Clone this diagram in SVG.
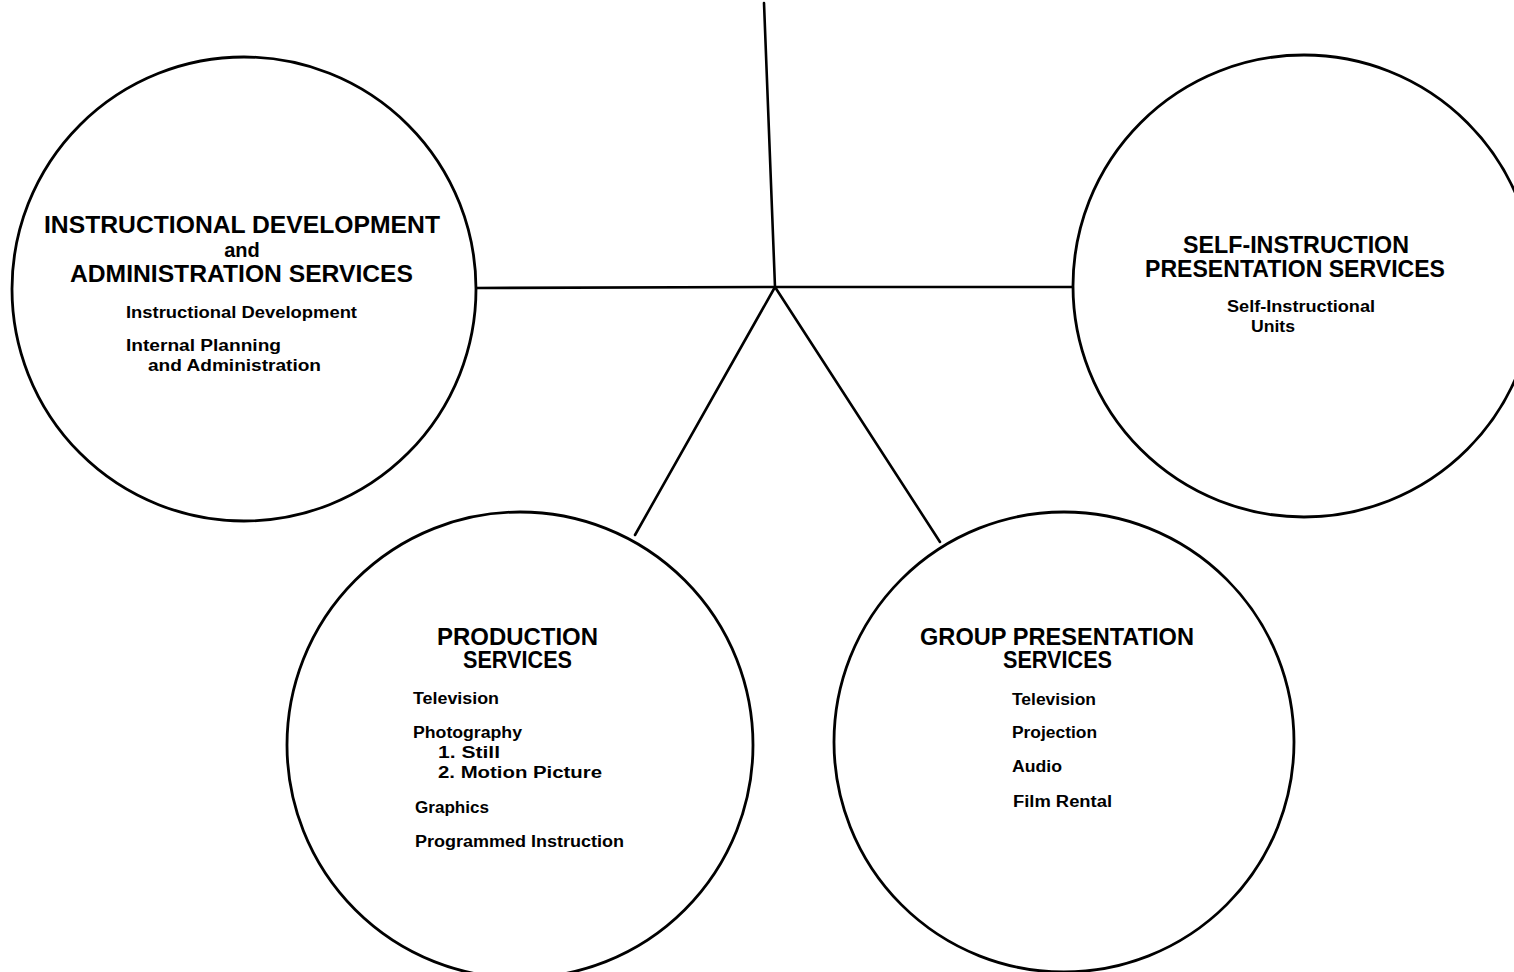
<svg xmlns="http://www.w3.org/2000/svg" width="1514" height="972" viewBox="0 0 1514 972">
  <style>
    .ring { fill: #ffffff; stroke: #000000; stroke-width: 2.8; }
    .link { stroke: #000000; stroke-width: 2.6; fill: none; stroke-linecap: round; }
    text { font-family: "Liberation Sans", Arial, sans-serif; font-weight: bold; fill: #000000; }
    .head { font-size: 23px; }
    .item { font-size: 16px; }
  </style>

  <!-- connecting lines from the central junction -->
  <g id="connectors">
    <line class="link" x1="764" y1="3" x2="775" y2="287"/>
    <line class="link" x1="475" y1="288" x2="775" y2="287"/>
    <line class="link" x1="775" y1="287" x2="1073" y2="287"/>
    <line class="link" x1="775" y1="287" x2="635" y2="535"/>
    <line class="link" x1="775" y1="287" x2="940" y2="542"/>
  </g>

  <g id="instructional-development">
    <circle class="ring" cx="244" cy="289" r="232"/>
    <text class="head" x="44" y="233" textLength="396" lengthAdjust="spacingAndGlyphs">INSTRUCTIONAL  DEVELOPMENT</text>
    <text class="head" x="242" y="257" text-anchor="middle" style="font-size:20px">and</text>
    <text class="head" x="70" y="282" textLength="343" lengthAdjust="spacingAndGlyphs">ADMINISTRATION SERVICES</text>
    <text class="item" x="126" y="318" textLength="231" lengthAdjust="spacingAndGlyphs">Instructional Development</text>
    <text class="item" x="126" y="351" textLength="155" lengthAdjust="spacingAndGlyphs">Internal Planning</text>
    <text class="item" x="148" y="371" textLength="173" lengthAdjust="spacingAndGlyphs">and Administration</text>
  </g>

  <g id="self-instruction">
    <circle class="ring" cx="1304" cy="286" r="231"/>
    <text class="head" x="1183" y="253" textLength="226" lengthAdjust="spacingAndGlyphs">SELF-INSTRUCTION</text>
    <text class="head" x="1145" y="277" textLength="300" lengthAdjust="spacingAndGlyphs">PRESENTATION SERVICES</text>
    <text class="item" x="1227" y="312" textLength="148" lengthAdjust="spacingAndGlyphs">Self-Instructional</text>
    <text class="item" x="1251" y="332" textLength="44" lengthAdjust="spacingAndGlyphs">Units</text>
  </g>

  <g id="production">
    <circle class="ring" cx="520" cy="745" r="233"/>
    <text class="head" x="437" y="645" textLength="161" lengthAdjust="spacingAndGlyphs">PRODUCTION</text>
    <text class="head" x="463" y="668" textLength="109" lengthAdjust="spacingAndGlyphs">SERVICES</text>
    <text class="item" x="413" y="704" textLength="86" lengthAdjust="spacingAndGlyphs">Television</text>
    <text class="item" x="413" y="738" textLength="109" lengthAdjust="spacingAndGlyphs">Photography</text>
    <text class="item" x="438" y="758" textLength="62" lengthAdjust="spacingAndGlyphs">1. Still</text>
    <text class="item" x="438" y="778" textLength="164" lengthAdjust="spacingAndGlyphs">2. Motion  Picture</text>
    <text class="item" x="415" y="813" textLength="74" lengthAdjust="spacingAndGlyphs">Graphics</text>
    <text class="item" x="415" y="847" textLength="209" lengthAdjust="spacingAndGlyphs">Programmed Instruction</text>
  </g>

  <g id="group-presentation">
    <circle class="ring" cx="1064" cy="742" r="230"/>
    <text class="head" x="920" y="645" textLength="274" lengthAdjust="spacingAndGlyphs">GROUP PRESENTATION</text>
    <text class="head" x="1003" y="668" textLength="109" lengthAdjust="spacingAndGlyphs">SERVICES</text>
    <text class="item" x="1012" y="705" textLength="84" lengthAdjust="spacingAndGlyphs">Television</text>
    <text class="item" x="1012" y="738" textLength="85" lengthAdjust="spacingAndGlyphs">Projection</text>
    <text class="item" x="1012" y="772" textLength="50" lengthAdjust="spacingAndGlyphs">Audio</text>
    <text class="item" x="1013" y="807" textLength="99" lengthAdjust="spacingAndGlyphs">Film Rental</text>
  </g>
</svg>
